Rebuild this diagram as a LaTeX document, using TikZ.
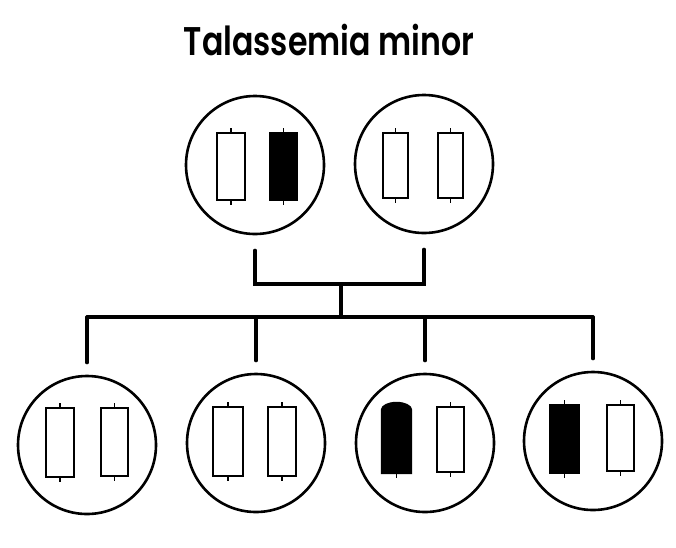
\documentclass[tikz,border=0pt]{standalone}
\usepackage{fontspec}
\setmainfont{Poppins}[UprightFont=* Medium, BoldFont=* SemiBold]
\begin{document}
\begin{tikzpicture}[x=1pt,y=-1pt,
  cell/.style={circle, draw, line width=2.6pt, minimum size=138pt, inner sep=0pt},
  chrw/.style={draw, line width=2.4pt, fill=white},
  chrb/.style={draw, line width=2.4pt, fill=black},
  tickmark/.style={line width=1.2pt},
  wire/.style={line width=3.2pt, line cap=round, line join=miter}]
\useasboundingbox (0,0) rectangle (676,547);
\newcommand{\chrom}[5]{%
  \draw[#5] (#1,#2) rectangle (#3,#4);
  \draw[tickmark] ({(#1+#3)/2},#2) -- ++(0,-5);
  \draw[tickmark] ({(#1+#3)/2},#4) -- ++(0,5);}
% title
\node[anchor=base, inner sep=0pt, font=\fontsize{40}{44}\selectfont\bfseries] (title) at (329,55) {\scalebox{0.79}[1]{Talassemia minor}};
% parents
\node[cell] (p1) at (255,165) {};
\node[cell] (p2) at (424,164) {};
% children
\node[cell] (c1) at (87,445) {};
\node[cell] (c2) at (256,443) {};
\node[cell] (c3) at (425,443) {};
\node[cell] (c4) at (593,441) {};
% chromosomes
\chrom{217}{133}{245}{200}{chrw}
\chrom{270}{133}{297}{200}{chrb}
\chrom{383}{133}{408}{198}{chrw}
\chrom{438}{133}{463}{198}{chrw}
\chrom{46}{408}{74}{477}{chrw}
\chrom{101}{408}{128}{476}{chrw}
\chrom{213}{407}{243}{476}{chrw}
\chrom{268}{407}{296}{476}{chrw}
\draw[chrb] (382,473) -- (382,410) arc[start angle=180, end angle=0, x radius=14.5pt, y radius=7pt] -- (411,473) -- cycle;
\draw[tickmark] (396.5,473) -- ++(0,5);
\chrom{437}{407}{464}{472}{chrw}
\chrom{550}{405}{579}{473}{chrb}
\chrom{607}{405}{634}{471}{chrw}
% connectors
\coordinate (a1) at ([yshift=-15pt]p1.south);
\coordinate (a2) at ([yshift=-15pt]p2.south);
\coordinate (j) at (341,284);
\coordinate (k) at (341,317);
\coordinate (h1) at (87,317);
\coordinate (h4) at (593,317);
\draw[wire] (a1) |- (j) -| (a2);
\draw[wire] (j) -- (k);
\draw[wire] (c1.north |- h1) -- (h4);
\draw[wire] (c1.north |- h1) -- ([yshift=12pt]c1.north);
\draw[wire] (c2.north |- h1) -- ([yshift=12pt]c2.north);
\draw[wire] (c3.north |- h1) -- ([yshift=12pt]c3.north);
\draw[wire] (c4.north |- h1) -- ([yshift=12pt]c4.north);
\end{tikzpicture}
\end{document}
